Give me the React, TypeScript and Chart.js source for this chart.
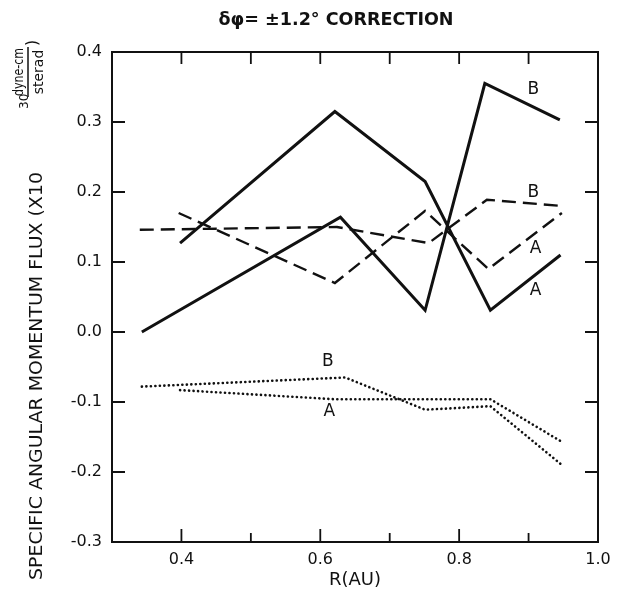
import React, { useEffect, useRef } from "react";
import { Chart, registerables } from "chart.js";

Chart.register(...registerables);

// ---- data ----
const xSolidA = [0.398, 0.621, 0.751, 0.845, 0.946];
const ySolidA = [0.127, 0.315, 0.215, 0.031, 0.11];
const xSolidB = [0.343, 0.629, 0.751, 0.837, 0.945];
const ySolidB = [0.0, 0.164, 0.031, 0.355, 0.303];
const xDashA = [0.396, 0.621, 0.751, 0.842, 0.948];
const yDashA = [0.17, 0.07, 0.173, 0.09, 0.17];
const xDashB = [0.34, 0.624, 0.756, 0.84, 0.948];
const yDashB = [0.146, 0.15, 0.127, 0.189, 0.18];
const xDotA = [0.398, 0.62, 0.751, 0.845, 0.948];
const yDotA = [-0.083, -0.096, -0.096, -0.096, -0.157];
const xDotB = [0.343, 0.636, 0.751, 0.845, 0.948];
const yDotB = [-0.078, -0.065, -0.111, -0.106, -0.19];

const xTickLabels = [0.4, 0.6, 0.8, 1.0];
const xTickMarks = [0.4, 0.5, 0.6, 0.7, 0.8, 0.9];
const yTickLabels = [-0.3, -0.2, -0.1, 0.0, 0.1, 0.2, 0.3, 0.4];
const yTickMarks = [-0.2, -0.1, 0.0, 0.1, 0.2, 0.3];

const titleText = "\u03B4\u03C6= \u00B11.2\u00B0 CORRECTION";
const xTitle = "R(AU)";
const yTitleMain = "SPECIFIC ANGULAR MOMENTUM FLUX (X10";
const yTitleSup = "30";
const yTitleNum = "dyne-cm";
const yTitleDen = "sterad";

// curve labels (text, data x, data y)
const curveLabelText = ["B", "B", "A", "A", "B", "A"];
const curveLabelX = [0.907, 0.907, 0.91, 0.91, 0.611, 0.613];
const curveLabelY = [0.346, 0.199, 0.119, 0.059, -0.042, -0.114];

const FONT = "'DejaVu Sans', sans-serif";

function pts(xs: number[], ys: number[]) {
  return xs.map((x, i) => ({ x, y: ys[i] }));
}

const decorPlugin = {
  id: "decor",
  afterDraw(chart: any) {
    const { ctx, chartArea, scales } = chart;
    const xs = scales.x;
    const ys = scales.y;
    const { left, right, top, bottom } = chartArea;
    ctx.save();
    ctx.strokeStyle = "#111";
    ctx.fillStyle = "#111";
    ctx.lineWidth = 2;
    ctx.strokeRect(left, top, right - left, bottom - top);
    ctx.lineWidth = 1.8;
    ctx.beginPath();
    xTickMarks.forEach((v) => {
      const px = xs.getPixelForValue(v);
      const major = Math.round(v * 10) % 2 === 0;
      ctx.moveTo(px, bottom);
      ctx.lineTo(px, bottom - (major ? 13 : 9));
      ctx.moveTo(px, top);
      ctx.lineTo(px, top + 12);
    });
    yTickMarks.forEach((v) => {
      const py = ys.getPixelForValue(v);
      ctx.moveTo(left, py);
      ctx.lineTo(left + 13, py);
      ctx.moveTo(right, py);
      ctx.lineTo(right - 13, py);
    });
    ctx.stroke();

    // curve labels
    ctx.font = `17px ${FONT}`;
    ctx.textAlign = "center";
    ctx.textBaseline = "middle";
    curveLabelText.forEach((t, i) => {
      ctx.fillText(t, xs.getPixelForValue(curveLabelX[i]), ys.getPixelForValue(curveLabelY[i]));
    });

    // title
    ctx.font = `bold 18px ${FONT}`;
    const tw = ctx.measureText(titleText).width;
    ctx.save();
    ctx.translate(336, 20);
    ctx.scale(235 / tw, 1);
    ctx.textAlign = "center";
    ctx.textBaseline = "middle";
    ctx.fillText(titleText, 0, 0);
    ctx.restore();

    // x title
    ctx.font = `18px ${FONT}`;
    ctx.textAlign = "center";
    ctx.textBaseline = "middle";
    ctx.fillText(xTitle, (left + right) / 2, 580);

    // y title (rotated)
    ctx.save();
    ctx.rotate(-Math.PI / 2);
    ctx.textBaseline = "alphabetic";
    ctx.textAlign = "left";
    ctx.font = `18px ${FONT}`;
    const mw = ctx.measureText(yTitleMain).width;
    ctx.save();
    ctx.translate(-580, 42);
    ctx.scale(408 / mw, 1);
    ctx.fillText(yTitleMain, 0, 0);
    ctx.restore();
    ctx.font = `12px ${FONT}`;
    ctx.fillText(yTitleSup, -109, 28);
    ctx.font = `14px ${FONT}`;
    ctx.textAlign = "center";
    const nw = ctx.measureText(yTitleNum).width;
    ctx.save();
    ctx.translate(-72, 23);
    ctx.scale(Math.min(1, 48 / nw), 1);
    ctx.fillText(yTitleNum, 0, 0);
    ctx.restore();
    const dw = ctx.measureText(yTitleDen).width;
    ctx.save();
    ctx.translate(-72, 43);
    ctx.scale(Math.min(1, 46 / dw), 1);
    ctx.fillText(yTitleDen, 0, 0);
    ctx.restore();
    ctx.lineWidth = 1.5;
    ctx.beginPath();
    ctx.moveTo(-97, 28);
    ctx.lineTo(-47, 28);
    ctx.stroke();
    ctx.font = `16px ${FONT}`;
    ctx.textAlign = "left";
    ctx.fillText(")", -46, 37);
    ctx.restore();

    ctx.restore();
  },
};

export default function App() {
  const ref = useRef<HTMLCanvasElement>(null);
  useEffect(() => {
    if (!ref.current) return;
    const base = {
      borderColor: "#111",
      pointRadius: 0,
      fill: false,
      tension: 0,
      showLine: true,
    };
    const solid = { ...base, borderWidth: 3 };
    const dashed = { ...base, borderWidth: 2.4, borderDash: [14, 7] };
    const dotted = { ...base, borderWidth: 2.6, borderDash: [0.1, 4.4], borderCapStyle: "round" };
    const chart = new Chart(ref.current, {
      type: "line",
      data: {
        datasets: [
          { ...solid, label: "Solid A", data: pts(xSolidA, ySolidA) },
          { ...solid, label: "Solid B", data: pts(xSolidB, ySolidB) },
          { ...dashed, label: "Dashed A", data: pts(xDashA, yDashA) },
          { ...dashed, label: "Dashed B", data: pts(xDashB, yDashB) },
          { ...dotted, label: "Dotted A", data: pts(xDotA, yDotA) },
          { ...dotted, label: "Dotted B", data: pts(xDotB, yDotB) },
        ] as any,
      },
      options: {
        animation: false,
        responsive: true,
        maintainAspectRatio: false,
        layout: { padding: { top: 52, right: 20, left: 0, bottom: 0 } },
        plugins: { legend: { display: false }, tooltip: { enabled: false }, title: { display: false } },
        scales: {
          x: {
            type: "linear",
            min: 0.3,
            max: 1.0,
            grid: { display: false },
            border: { display: false },
            afterBuildTicks: (s: any) => {
              s.ticks = xTickLabels.map((v) => ({ value: v }));
            },
            afterFit: (s: any) => {
              s.height = 54;
            },
            ticks: {
              color: "#111",
              font: { family: FONT, size: 16 },
              padding: 0,
              maxRotation: 0,
              autoSkip: false,
              callback: (v: any) => Number(v).toFixed(1),
            },
          },
          y: {
            type: "linear",
            min: -0.3,
            max: 0.4,
            grid: { display: false },
            border: { display: false },
            afterBuildTicks: (s: any) => {
              s.ticks = yTickLabels.map((v) => ({ value: v }));
            },
            afterFit: (s: any) => {
              s.width = 112;
            },
            ticks: {
              color: "#111",
              font: { family: FONT, size: 16 },
              padding: 2,
              autoSkip: false,
              callback: (v: any) => Number(v).toFixed(1),
            },
          },
        },
      } as any,
      plugins: [decorPlugin],
    });
    return () => chart.destroy();
  }, []);
  return (
    <div style={{ position: "fixed", left: 0, top: 0, width: 618, height: 596, background: "#fff" }}>
      <canvas ref={ref} />
    </div>
  );
}
